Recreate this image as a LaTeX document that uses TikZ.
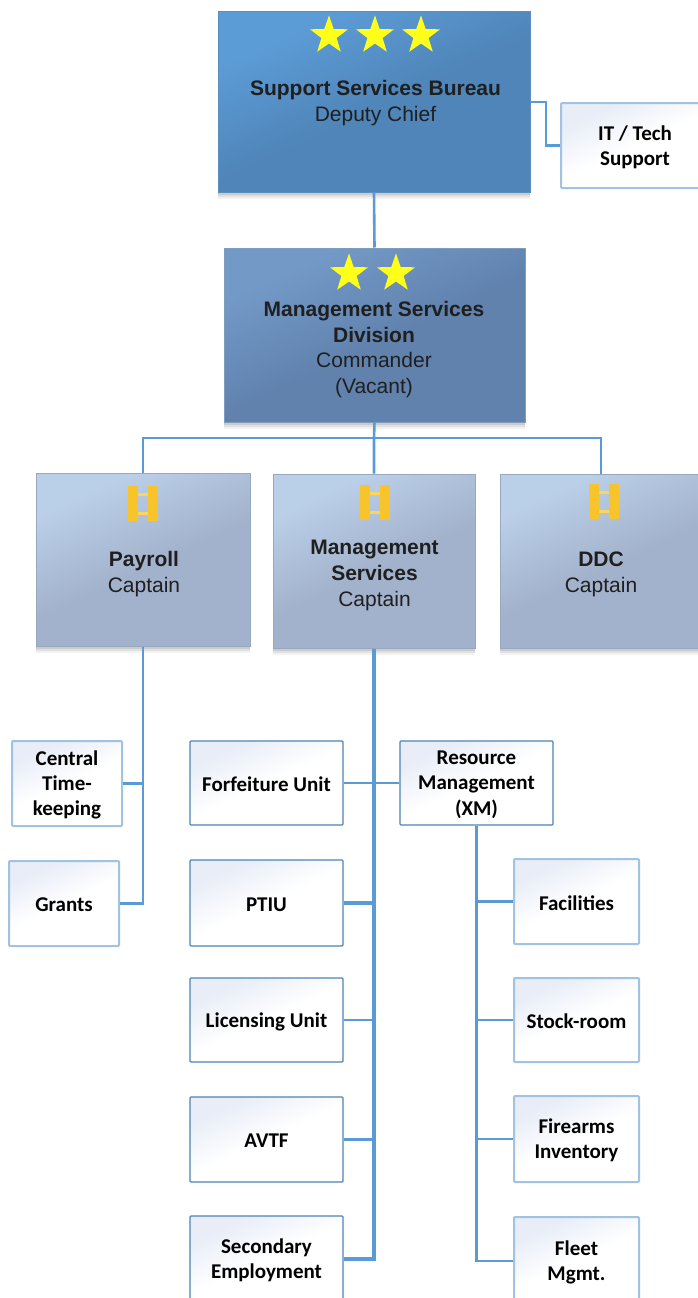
\documentclass[tikz,border=0pt]{standalone}
\usepackage{fontspec}
\setmainfont{Liberation Sans}
\newfontfamily\boxfont{Carlito}
\usetikzlibrary{shapes.geometric,shadows}
\definecolor{linkblue}{HTML}{5B9BD5}
\definecolor{softedge}{HTML}{A2C2E1}
\definecolor{goldbar}{HTML}{F8C42C}
\definecolor{goldrung}{HTML}{FAD65E}
\definecolor{staryellow}{HTML}{FFFF1A}
\definecolor{bureauedge}{HTML}{5A8FC0}
\definecolor{divedge}{HTML}{7F9CBF}
\definecolor{capedge}{HTML}{98A9BF}
\pgfdeclareverticalshading{bureaushade}{100bp}{rgb(0bp)=(0.31,0.52,0.72); rgb(48bp)=(0.31,0.52,0.72); rgb(72bp)=(0.36,0.61,0.84); rgb(100bp)=(0.36,0.61,0.84)}
\pgfdeclareverticalshading{divshade}{100bp}{rgb(0bp)=(0.38,0.51,0.68); rgb(48bp)=(0.38,0.51,0.68); rgb(72bp)=(0.45,0.60,0.78); rgb(100bp)=(0.45,0.60,0.78)}
\pgfdeclareverticalshading{capshade}{100bp}{rgb(0bp)=(0.64,0.70,0.80); rgb(48bp)=(0.64,0.70,0.80); rgb(72bp)=(0.73,0.81,0.91); rgb(100bp)=(0.73,0.81,0.91)}
\pgfdeclareverticalshading{unitshade}{100bp}{rgb(0bp)=(1,1,1); rgb(50bp)=(1,1,1); rgb(72bp)=(0.91,0.93,0.97); rgb(100bp)=(0.91,0.93,0.97)}
\tikzset{
  softshadow/.style={
    drop shadow={shadow xshift=0pt,shadow yshift=-7pt,opacity=.05,fill=black},
    drop shadow={shadow xshift=0pt,shadow yshift=-5pt,opacity=.07,fill=black},
    drop shadow={shadow xshift=0pt,shadow yshift=-3pt,opacity=.09,fill=black}},
  bigbox/.style={rectangle,inner sep=0pt,draw,line width=1pt,shading angle=25,softshadow},
  bureaubox/.style={bigbox,draw=bureauedge,shading=bureaushade},
  divbox/.style={bigbox,draw=divedge,shading=divshade},
  capbox/.style={bigbox,draw=capedge,shading=capshade},
  unittext/.style={inner sep=0pt,align=center,font=\boxfont\bfseries\fontsize{21}{25.3}\selectfont,text=black},
  unitlabel/.style={label={[unittext,yshift=-1.5pt]center:#1}},
  unitbox/.style={rectangle,rounded corners=1pt,inner sep=0pt,draw=softedge,line width=2pt,shading=unitshade,shading angle=25},
  sharpunit/.style={unitbox,draw=linkblue!85!black,line width=1.3pt},
  titletext/.style={inner sep=0pt,align=center,font=\fontsize{21}{25.8}\selectfont,text=black!88},
  link/.style={draw=linkblue,line width=2.6pt,line join=miter},
  trunk/.style={draw=linkblue,line width=3.4pt},
  rankstar/.style={star,star points=5,star point ratio=2.5,fill=staryellow,draw=none,inner sep=0pt,minimum size=40pt},
  pics/capbars/.style={code={
    \fill[goldrung] (-9,-11) rectangle (9,-8);
    \fill[goldrung] (-9,8) rectangle (9,11);
    \fill[goldbar] (-15,-17.5) rectangle (-5,17.5);
    \fill[goldbar] (5,-17.5) rectangle (15,17.5);
  }}
}
\begin{document}
\begin{tikzpicture}[x=1pt,y=-1pt]
\path[use as bounding box,clip] (0,0) rectangle (698,1298);
\fill[white] (0,0) rectangle (698,1298);

% command boxes
\node[bureaubox,minimum width=312pt,minimum height=180pt] (bur) at (374,102) {};
\node[divbox,minimum width=301pt,minimum height=174pt] (div) at (374.5,335) {};
\node[capbox,minimum width=214pt,minimum height=173pt] (pay) at (143,559.5) {};
\node[capbox,minimum width=202pt,minimum height=174pt] (ms) at (374,561) {};
\node[capbox,minimum width=202pt,minimum height=174pt] (ddc) at (601,561) {};

% unit boxes
\node[unitbox,unitlabel={IT / Tech\\Support},minimum width=148pt,minimum height=85pt] (it) at (635,145.5) {};
\node[unitbox,unitlabel={Central\\Time-\\keeping},minimum width=110pt,minimum height=85pt] (ce) at (67,783.5) {};
\node[unitbox,unitlabel={Grants},minimum width=110pt,minimum height=85pt] (gr) at (64,903.5) {};
\node[sharpunit,unitlabel={Forfeiture Unit},minimum width=153pt,minimum height=84pt] (fo) at (266.5,783) {};
\node[sharpunit,unitlabel={PTIU},minimum width=153pt,minimum height=86pt] (pt) at (266.5,903) {};
\node[sharpunit,unitlabel={Licensing Unit},minimum width=153pt,minimum height=84pt] (li) at (266.5,1020) {};
\node[sharpunit,unitlabel={AVTF},minimum width=153pt,minimum height=85pt] (av) at (266.5,1139.5) {};
\node[sharpunit,unitlabel={Secondary\\Employment},minimum width=153pt,minimum height=86pt] (se) at (266.5,1259) {};
\node[sharpunit,unitlabel={Resource\\Management\\(XM)},minimum width=153pt,minimum height=84pt] (re) at (476.5,783) {};
\node[unitbox,unitlabel={Facilities},minimum width=125pt,minimum height=85pt] (fa) at (576.5,901.5) {};
\node[unitbox,unitlabel={Stock-room},minimum width=125pt,minimum height=84pt] (st) at (576.5,1020) {};
\node[unitbox,unitlabel={Firearms\\Inventory},minimum width=125pt,minimum height=86pt] (fi) at (576.5,1139) {};
\node[unitbox,unitlabel={Fleet\\Mgmt.},minimum width=125pt,minimum height=88pt] (fl) at (576.5,1261) {};

% connectors
\coordinate (bus) at (374,438);
\coordinate (itbend) at (546,102);
\draw[link] (bur.south) -- (div.north);
\draw[link] (bur.east) -- (itbend) |- (it.west);
\draw[link] (div.south) -- (bus) -- (ms.north);
\draw[link] (pay.north) |- (bus) -| (ddc.north);
\draw[link] (pay.south) |- (gr.east);
\draw[link] (ce.east) -- (pay.south |- ce.east);
\draw[trunk] (ms.south) |- (se.east);
\draw[link] (fo.east) -- (re.west);
\draw[trunk] (pt.east) -- (ms.south |- pt.east);
\draw[link] (li.east) -- (ms.south |- li.east);
\draw[link] (av.east) -- (ms.south |- av.east);
\draw[link] (re.south) |- (fl.west);
\draw[link] (fa.west) -- (re.south |- fa.west);
\draw[link] (st.west) -- (re.south |- st.west);
\draw[link] (fi.west) -- (re.south |- fi.west);

% stars
\node[rankstar] (s1) at (329,35.5) {};
\node[rankstar] (s2) at (375,35.5) {};
\node[rankstar] (s3) at (421,35.5) {};
\node[rankstar] (s4) at (349,273.5) {};
\node[rankstar] (s5) at (396,273.5) {};

% captain bars
\pic at (143,503.5) {capbars};
\pic at (374.5,502.5) {capbars};
\pic at (604,501.5) {capbars};

% titles
\node[titletext] (burt) at (375.5,103) {\textbf{Support Services Bureau}\\Deputy Chief};
\node[titletext] (divt) at (374,349.5) {\textbf{Management Services}\\\textbf{Division}\\Commander\\(Vacant)};
\node[titletext] (payt) at (144,574) {\textbf{Payroll}\\Captain};
\node[titletext] (mst) at (374.5,575.5) {\textbf{Management}\\\textbf{Services}\\Captain};
\node[titletext] (ddct) at (601,574.5) {\textbf{DDC}\\Captain};
\end{tikzpicture}
\end{document}
